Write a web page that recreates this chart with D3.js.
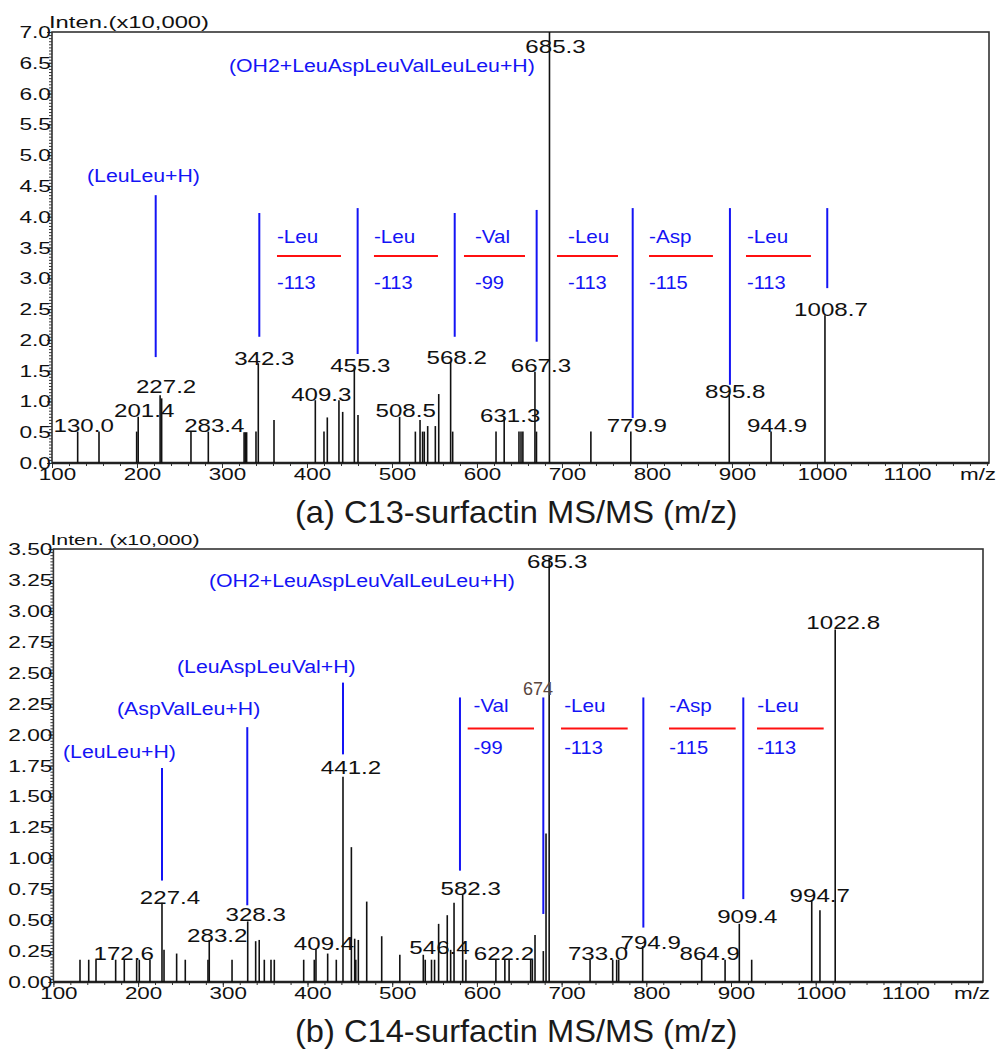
<!DOCTYPE html>
<html>
<head>
<meta charset="utf-8">
<script src="https://cdn.jsdelivr.net/npm/d3@7"></script>
<style>
  body { margin: 0; background: #fff; }
  text { font-family: "Liberation Sans", Arial, Helvetica, sans-serif; }
</style>
</head>
<body>
<div id="chart"></div>
<script>
// ---- panel (a): C13-surfactin, peaks as [m/z, intensity x10,000]
var topPeaks = [
  [130.2,0.51],[155.3,0.51],[199.6,0.51],[201.4,0.75],[227.2,1.10],[229.0,1.05],[263.5,0.51],
  [283.9,0.51],[326.0,0.50],[327.5,0.50],[329.0,0.50],[340.0,0.51],[342.7,1.62],[361.2,0.70],
  [409.8,1.02],[420.0,0.51],[423.9,0.74],[437.6,1.02],[442.0,0.83],[455.7,1.54],[460.0,0.78],
  [509.0,0.75],[527.5,0.51],[533.0,0.70],[536.0,0.51],[538.0,0.51],[542.0,0.60],[551.0,0.60],
  [555.0,1.12],[569.0,1.64],[571.4,0.51],[622.4,0.51],[632.0,0.75],[649.4,0.51],[651.8,0.51],
  [654.0,0.51],[668.2,1.48],[670.0,0.51],[685.3,7.00],[734.0,0.51],[781.0,0.51],[896.8,1.10],
  [946.0,0.51],[1009.4,2.40]
];
// [text, m/z, label baseline intensity]
var topLabels = [
  ["130.0",130.2,0.50],["201.4",201.4,0.74],["227.2",227.2,1.14],["283.4",283.9,0.50],
  ["342.3",342.7,1.59],["409.3",409.8,1.00],["455.3",455.7,1.48],["508.5",509.0,0.75],
  ["568.2",569.0,1.60],["631.3",632.0,0.67],["667.3",668.2,1.48],["685.3",685.3,6.66],
  ["779.9",781.0,0.51],["895.8",896.8,1.06],["944.9",946.0,0.51],["1008.7",1009.4,2.38]
];
// blue ion names [text, start m/z, baseline intensity]
var topIons = [
  ["(OH2+LeuAspLeuValLeuLeu+H)",308.2,6.35],
  ["(LeuLeu+H)",141.2,4.56]
];
// blue marker lines [m/z, top, bottom]
var topMarks = [
  [222.0,4.35,1.72],[343.9,4.06,2.05],[459.6,4.14,1.77],[573.8,4.06,2.05],
  [670.2,4.11,1.97],[783.2,4.14,0.73],[897.6,4.14,1.27],[1012.1,4.14,2.84]
];
// losses [residue, mass, text m/z, red from, red to]
var topLosses = [
  ["-Leu","-113",364.7,364.7,440.0],["-Leu","-113",478.8,478.8,554.1],
  ["-Val","-99",597.6,584.7,656.5],["-Leu","-113",707.1,694.1,765.9],
  ["-Asp","-115",802.4,802.4,877.6],["-Leu","-113",917.6,916.5,992.9]
];
var topLossY = [3.58, 3.36, 2.83];

// ---- panel (b): C14-surfactin
var botPeaks = [
  [131.4,0.18],[141.7,0.18],[150.3,0.18],[173.5,0.18],[183.7,0.18],[198.3,0.18],[201.4,0.18],
  [214.0,0.18],[228.2,0.64],[230.6,0.26],[245.5,0.23],[255.7,0.18],[282.5,0.18],[284.0,0.34],
  [310.9,0.18],[329.4,0.49],[338.8,0.33],[343.0,0.34],[349.0,0.18],[356.9,0.18],[360.8,0.18],
  [395.5,0.18],[408.0,0.18],[410.0,0.27],[423.8,0.23],[434.0,0.18],[441.9,1.66],[451.8,1.09],
  [455.7,0.35],[457.0,0.18],[460.0,0.34],[469.9,0.65],[487.6,0.37],[509.0,0.22],[536.7,0.22],
  [539.0,0.18],[546.4,0.18],[550.0,0.18],[554.8,0.47],[565.0,0.54],[569.0,0.26],[573.0,0.64],
  [583.2,0.71],[587.0,0.18],[622.4,0.18],[633.0,0.18],[638.0,0.18],[663.5,0.18],[665.5,0.18],
  [668.6,0.38],[678.4,0.25],[681.6,1.20],[685.3,3.43],[733.6,0.18],[760.3,0.18],[765.0,0.18],
  [767.4,0.18],[795.7,0.29],[865.4,0.18],[893.0,0.18],[909.8,0.47],[924.4,0.18],[995.3,0.66],
  [1005.0,0.58],[1023.0,2.85]
];
var botLabels = [
  ["172.6",173.5,0.18],["227.4",228.2,0.63],["283.2",284.0,0.32],["328.3",329.4,0.49],
  ["409.4",410.0,0.26],["441.2",441.9,1.68],["546.4",546.4,0.23],["582.3",583.2,0.70],
  ["622.2",622.4,0.18],["685.3",685.3,3.35],["733.0",733.6,0.18],["794.9",795.7,0.27],
  ["864.9",865.4,0.18],["909.4",909.8,0.48],["994.7",995.3,0.65],["1022.8",1023.0,2.85]
];
var botIons = [
  ["(OH2+LeuAspLeuValLeuLeu+H)",283.7,3.19],
  ["(LeuAspLeuVal+H)",245.9,2.50],
  ["(AspValLeu+H)",175.1,2.16],
  ["(LeuLeu+H)",111.3,1.81]
];
var botMarks = [
  [228.2,1.73,0.82],[328.9,2.06,0.62],[441.9,2.42,1.84],[580.0,2.30,0.90],
  [678.4,2.30,0.55],[796.5,2.30,0.44],[914.5,2.30,0.67]
];
var botLosses = [
  ["-Val","-99",596.0,589.1,667.4],["-Leu","-113",703.0,699.3,778.0],
  ["-Asp","-115",827.2,826.8,905.5],["-Leu","-113",931.1,930.7,1009.4]
];
var botLossY = [2.18, 2.05, 1.84];
var botNote = ["674",654.4,2.32];

var xTicks = d3.range(100, 1101, 100);

var svg = d3.select("#chart").append("svg")
    .attr("width", 997)
    .attr("height", 1050);

var blue = "#1414f5", red = "#ff1010", ink = "#111";

function label(g, x, y, s, size, sx, anchor, color) {
  return g.append("text")
      .attr("transform", "translate(" + x + "," + y + ") scale(" + sx + ",1)")
      .attr("text-anchor", anchor)
      .style("font-size", size + "px")
      .style("fill", color)
      .text(s);
}

function drawPanel(p) {
  var x = d3.scaleLinear().domain(p.xDomain).range([p.left, p.right]);
  var y = d3.scaleLinear().domain(p.yDomain).range([p.bottom, p.top]);
  var g = svg.append("g");

  // minor ticks
  g.append("g")
      .attr("transform", "translate(" + p.left + ",0)")
      .call(d3.axisLeft(y).tickValues(d3.range(0, p.yDomain[1] + 1e-6, p.yMinor)).tickSize(3).tickFormat(""))
      .call(function(a) { a.select(".domain").remove(); a.selectAll("line").attr("stroke", "#333"); });
  g.append("g")
      .attr("transform", "translate(0," + p.bottom + ")")
      .call(d3.axisBottom(x).tickValues(d3.range(100, p.xDomain[1], 20)).tickSize(3).tickFormat(""))
      .call(function(a) { a.select(".domain").remove(); a.selectAll("line").attr("stroke", "#333"); });

  // major ticks + labels
  var ya = g.append("g")
      .attr("transform", "translate(" + p.left + ",0)")
      .call(d3.axisLeft(y).tickValues(p.yTicks).tickSize(5).tickFormat(d3.format(p.yFmt)));
  ya.select(".domain").remove();
  ya.selectAll("line").attr("stroke", "#333");
  ya.selectAll("text")
      .attr("x", null).attr("dy", null)
      .attr("transform", "translate(-1,5.5) scale(1.42,1)")
      .style("font-size", "16px").style("fill", ink).style("font-family", null);

  var xa = g.append("g")
      .attr("transform", "translate(0," + p.bottom + ")")
      .call(d3.axisBottom(x).tickValues(xTicks).tickSize(5).tickFormat(d3.format("d")));
  xa.select(".domain").remove();
  xa.selectAll("line").attr("stroke", "#333");
  xa.selectAll("text")
      .attr("y", null).attr("dy", null)
      .attr("transform", "translate(5," + p.xLabDy + ") scale(1.4,1)")
      .style("font-size", "16px").style("fill", ink).style("font-family", null);

  // frame
  g.append("rect")
      .attr("x", p.left).attr("y", p.top)
      .attr("width", p.right - p.left).attr("height", p.bottom - p.top)
      .attr("fill", "none").attr("stroke", "#333").attr("stroke-width", 1.6);
  g.append("line")
      .attr("x1", p.left).attr("x2", p.right)
      .attr("y1", p.bottom).attr("y2", p.bottom)
      .attr("stroke", "#222").attr("stroke-width", 2.6);

  // peaks
  g.selectAll(".peak").data(p.peaks).enter().append("line")
      .attr("x1", function(d) { return x(d[0]); })
      .attr("x2", function(d) { return x(d[0]); })
      .attr("y1", y(0))
      .attr("y2", function(d) { return y(d[1]); })
      .attr("stroke", ink).attr("stroke-width", 1.6);

  p.labels.forEach(function(d) {
    label(g, x(d[1]) + p.labDx, y(d[2]), d[0], 18, 1.34, "middle", ink);
  });

  // annotations
  g.selectAll(".mark").data(p.marks).enter().append("line")
      .attr("x1", function(d) { return x(d[0]); })
      .attr("x2", function(d) { return x(d[0]); })
      .attr("y1", function(d) { return y(d[1]); })
      .attr("y2", function(d) { return y(d[2]); })
      .attr("stroke", blue).attr("stroke-width", 2);

  p.ions.forEach(function(d) {
    label(g, x(d[1]), y(d[2]), d[0], 19, 1.12, "start", blue);
  });

  p.losses.forEach(function(d) {
    label(g, x(d[2]), y(p.lossY[0]), d[0], 17.5, 1.18, "start", blue);
    label(g, x(d[2]), y(p.lossY[2]), d[1], 19, 1.06, "start", blue);
    g.append("line")
        .attr("x1", x(d[3])).attr("x2", x(d[4]))
        .attr("y1", y(p.lossY[1])).attr("y2", y(p.lossY[1]))
        .attr("stroke", red).attr("stroke-width", 2);
  });

  if (p.note) label(g, x(p.note[1]), y(p.note[2]), p.note[0], 18, 1.0, "start", "#5a4640");

  // axis captions
  label(g, p.left - 3, p.top - 4, p.yTitle, p.yTitleSize, p.yTitleSx, "start", ink);
  label(g, p.right - 29, p.bottom + 17, "m/z", 16, 1.4, "start", ink);
  label(svg, 295, p.captionY, p.caption, 32, 1.02, "start", "#1a1a1a");
}

drawPanel({
  left: 52, right: 989, top: 32, bottom: 463,
  xDomain: [100, 1202.4], yDomain: [0, 7],
  yTicks: d3.range(0, 7.01, 0.5), yMinor: 0.05, yFmt: ".1f",
  xLabDy: 17, labDx: 6,
  peaks: topPeaks, labels: topLabels, ions: topIons, marks: topMarks,
  losses: topLosses, lossY: topLossY, note: null,
  yTitle: "Inten.(x10,000)", yTitleSize: 17, yTitleSx: 1.4,
  caption: "(a) C13-surfactin MS/MS (m/z)", captionY: 523
});

drawPanel({
  left: 53.4, right: 983, top: 549, bottom: 982,
  xDomain: [100, 1197.5], yDomain: [0, 3.5],
  yTicks: d3.range(0, 3.51, 0.25), yMinor: 0.025, yFmt: ".2f",
  xLabDy: 17, labDx: 8,
  peaks: botPeaks, labels: botLabels, ions: botIons, marks: botMarks,
  losses: botLosses, lossY: botLossY, note: botNote,
  yTitle: "Inten. (x10,000)", yTitleSize: 15, yTitleSx: 1.42,
  caption: "(b) C14-surfactin MS/MS (m/z)", captionY: 1042
});
</script>
</body>
</html>
